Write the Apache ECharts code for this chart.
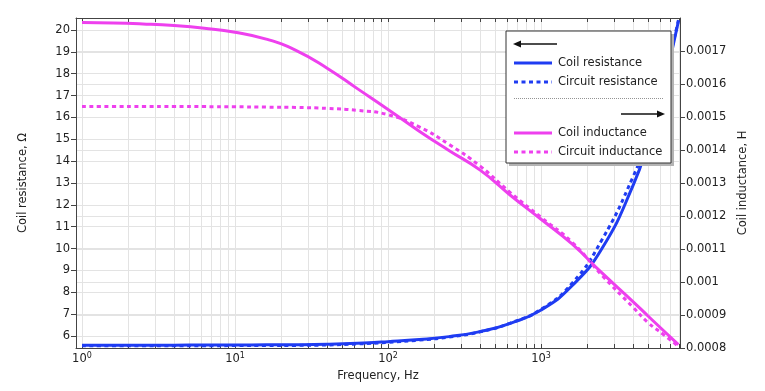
<!DOCTYPE html>
<html><head><meta charset="utf-8">
<script src="https://cdn.jsdelivr.net/npm/echarts@6/dist/echarts.min.js"></script>
<style>html,body{margin:0;padding:0;background:#fff}#c{width:765px;height:391px}</style>
</head><body><div id="c"></div>
<script>
// ---- data ----
const freqHz = [1,1.6,2.5,4,6.3,10,16,25,40,63,100,160,250,400,630,1000,1600,2500,4000,5000,6300,7900];
const coilResistance = [5.58,5.58,5.58,5.58,5.585,5.59,5.595,5.60,5.62,5.665,5.74,5.835,5.97,6.20,6.58,7.19,8.31,10.0,12.9,14.85,17.4,20.4];
const circuitResistance = [5.55,5.55,5.55,5.55,5.555,5.56,5.565,5.57,5.59,5.635,5.71,5.81,5.95,6.19,6.59,7.22,8.42,10.4,13.3,15.1,17.6,20.45];
const coilInductance = [0.001786,0.001785,0.001782,0.001777,0.001769,0.001757,0.001736,0.001702,0.001648,0.001586,0.001523,0.001457,0.0013985,0.001339,0.001263,0.00119,0.0011146,0.0010274,0.00094,0.000897,0.000853,0.00081];
const circuitInductance = [0.001532,0.001532,0.001532,0.001532,0.0015315,0.001531,0.00153,0.001529,0.001526,0.00152,0.001507,0.00147,0.001417,0.001351,0.001271,0.001196,0.00112,0.00102,0.000923,0.000877,0.000841,0.000805];
const decadeTicks = [1,10,100,1000];
const freqTickValues = [1,2,3,4,5,6,7,8,9,10,20,30,40,50,60,70,80,90,100,200,300,400,500,600,700,800,900,1000,2000,3000,4000,5000,6000,7000,8000];
const resistanceTicks = [6,7,8,9,10,11,12,13,14,15,16,17,18,19,20];
const seriesNames = ['Coil resistance','Circuit resistance','Coil inductance','Circuit inductance'];
const xTitle = 'Frequency, Hz';
const yLeftTitle = 'Coil resistance, Ω';
const yRightTitle = 'Coil inductance, H';

const FONT = 'DejaVu Sans';
const BLUE = '#1f3cf2';
const MAG = '#ee40ee';
const AXIS = '#444';
const GRID = '#e3e3e3';
const TXT = '#222';
const DOT = [4, 3.5];

function pairs(xs, ys){ return xs.map((x,i)=>[x, ys[i]]); }

const chart = echarts.init(document.getElementById('c'), null, {renderer:'canvas'});

const xCommon = {
  type:'log', logBase:10, min:0.914, max:8090,
  axisLine:{show:true,onZero:false,lineStyle:{color:AXIS,width:1}},
  axisTick:{show:true,inside:true,length:4,customValues:freqTickValues,lineStyle:{color:AXIS,width:1}},
  minorTick:{show:false}, minorSplitLine:{show:false}
};

const lineSeries = (name, data, color, yIdx, dotted) => ({
  name, type:'line', data, yAxisIndex:yIdx, xAxisIndex:0,
  showSymbol:false, symbol:'none', smooth:0.5,
  lineStyle:{color, width:3, type: dotted ? DOT : 'solid', cap:'butt'},
  itemStyle:{color}, z: dotted ? 3 : 2, silent:true
});

const LX = 506, LY = 31, LW = 165, LH = 132;
const legendGraphics = [
  {type:'rect', shape:{x:LX+3,y:LY+3,width:LW,height:LH}, style:{fill:'#b4b4b4'}, z:100},
  {type:'rect', shape:{x:LX,y:LY,width:LW,height:LH}, style:{fill:'#fff',stroke:'#333',lineWidth:1}, z:101},
  {type:'line', shape:{x1:519,y1:44,x2:557,y2:44}, style:{stroke:'#111',lineWidth:1.5}, z:102},
  {type:'polygon', shape:{points:[[513,44],[521,40.5],[521,47.5]]}, style:{fill:'#111'}, z:102},
  {type:'line', shape:{x1:514,y1:63,x2:552,y2:63}, style:{stroke:BLUE,lineWidth:3}, z:102},
  {type:'text', x:558, y:63, style:{text:seriesNames[0], font:'11.5px "'+FONT+'"', fill:TXT, verticalAlign:'middle'}, z:102},
  {type:'line', shape:{x1:514,y1:82,x2:552,y2:82}, style:{stroke:BLUE,lineWidth:3,lineDash:DOT}, z:102},
  {type:'text', x:558, y:82, style:{text:seriesNames[1], font:'11.5px "'+FONT+'"', fill:TXT, verticalAlign:'middle'}, z:102},
  {type:'line', shape:{x1:514,y1:98.5,x2:664,y2:98.5}, style:{stroke:'#777',lineWidth:0.8,lineDash:[1,1]}, z:102},
  {type:'line', shape:{x1:621,y1:114,x2:659,y2:114}, style:{stroke:'#111',lineWidth:1.5}, z:102},
  {type:'polygon', shape:{points:[[665,114],[657,110.5],[657,117.5]]}, style:{fill:'#111'}, z:102},
  {type:'line', shape:{x1:514,y1:133,x2:552,y2:133}, style:{stroke:MAG,lineWidth:3}, z:102},
  {type:'text', x:558, y:133, style:{text:seriesNames[2], font:'11.5px "'+FONT+'"', fill:TXT, verticalAlign:'middle'}, z:102},
  {type:'line', shape:{x1:514,y1:152,x2:552,y2:152}, style:{stroke:MAG,lineWidth:3,lineDash:DOT}, z:102},
  {type:'text', x:558, y:152, style:{text:seriesNames[3], font:'11.5px "'+FONT+'"', fill:TXT, verticalAlign:'middle'}, z:102}
];

const option = {
  backgroundColor:'#fff',
  animation:false,
  textStyle:{fontFamily:FONT},
  grid:{left:76, right:85, top:18, bottom:43, containLabel:false},
  xAxis:[
    Object.assign({}, xCommon, {
      position:'bottom',
      axisLabel:{show:true, customValues:decadeTicks, margin:4,
        formatter: v => '{b|10}{s|' + Math.round(Math.log10(v)) + '}',
        rich:{ b:{fontSize:11.5,fontFamily:FONT,color:TXT}, s:{fontSize:8,fontFamily:FONT,color:TXT,padding:[0,0,7,0]} } },
      splitLine:{show:true, lineStyle:{color:GRID,width:1}},
      name:xTitle, nameLocation:'middle', nameGap:14,
      nameTextStyle:{fontSize:11.5,fontFamily:FONT,color:TXT}
    }),
    Object.assign({}, xCommon, {
      position:'top',
      axisLabel:{show:false},
      splitLine:{show:false}
    })
  ],
  yAxis:[
    {type:'value', position:'left', min:5.45, max:20.55,
     axisLine:{show:true,onZero:false,lineStyle:{color:AXIS,width:1}},
     axisTick:{show:true,inside:false,length:5,customValues:resistanceTicks,lineStyle:{color:AXIS}},
     axisLabel:{customValues:resistanceTicks, fontSize:11.5, fontFamily:FONT, color:TXT, margin:6},
     splitLine:{show:true,lineStyle:{color:GRID,width:1}},
     name:yLeftTitle, nameLocation:'middle', nameRotate:90, nameGap:47,
     nameTextStyle:{fontSize:11.5,fontFamily:FONT,color:TXT}},
    {type:'value', position:'right', min:0.0008, max:0.0018, interval:0.0001,
     axisLine:{show:true,onZero:false,lineStyle:{color:AXIS,width:1}},
     axisTick:{show:true,inside:false,length:5,lineStyle:{color:AXIS}},
     axisLabel:{fontSize:11.5, fontFamily:FONT, color:TXT, margin:6, showMaxLabel:false,
       formatter: v => (v > 0.00179 ? '' : String(+v.toFixed(5)))},
     splitLine:{show:true,lineStyle:{color:GRID,width:1}},
     name:yRightTitle, nameLocation:'middle', nameRotate:90, nameGap:54,
     nameTextStyle:{fontSize:11.5,fontFamily:FONT,color:TXT}}
  ],
  series:[
    lineSeries(seriesNames[0], pairs(freqHz, coilResistance), BLUE, 0, false),
    lineSeries(seriesNames[1], pairs(freqHz, circuitResistance), BLUE, 0, true),
    lineSeries(seriesNames[2], pairs(freqHz, coilInductance), MAG, 1, false),
    lineSeries(seriesNames[3], pairs(freqHz, circuitInductance), MAG, 1, true)
  ],
  graphic: legendGraphics
};
chart.setOption(option);
</script>
</body></html>
